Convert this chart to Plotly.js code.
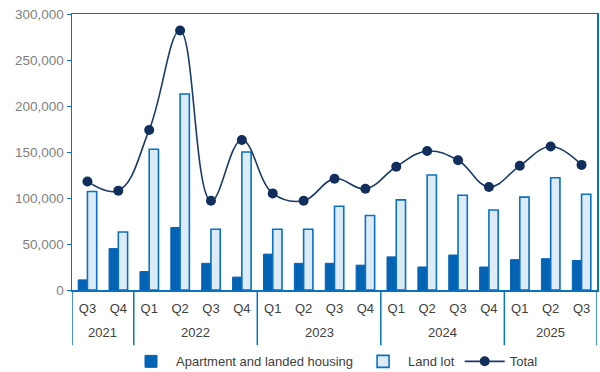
<!DOCTYPE html>
<html><head><meta charset="utf-8">
<script src="https://cdn.plot.ly/plotly-3.0.1.min.js"></script>
<style>html,body{margin:0;padding:0;background:#fff}#chart{width:600px;height:372px}</style>
</head><body><div id="chart"></div>
<script>
const years = ["2021","2021","2022","2022","2022","2022","2023","2023","2023","2023","2024","2024","2024","2024","2025","2025","2025"];
const quarters = ["Q3","Q4","Q1","Q2","Q3","Q4","Q1","Q2","Q3","Q4","Q1","Q2","Q3","Q4","Q1","Q2","Q3"];
const apartment = [11000,45000,20000,68000,29000,14000,39000,29000,29000,27000,36000,25000,38000,25000,33000,34000,32000];
const landLot = [107000,63000,153000,213000,66000,150000,66000,66000,91000,81000,98000,125000,103000,87000,101000,122000,104000];
const total = [118000,108000,174000,282000,97000,163000,105000,97000,121000,110000,134000,151000,141000,112000,135000,156000,136000];
const yTicks = [0,50000,100000,150000,200000,250000,300000];

const keys = years.map((y,i) => y + " " + quarters[i]);
const blue = '#0A70C0';

const traces = [
  {type:'bar', name:'Apartment and landed housing', x:keys, y:apartment,
   marker:{color:'#0563B4', line:{color:'#0563B4', width:1}}},
  {type:'bar', name:'Land lot', x:keys, y:landLot,
   marker:{color:'#DDEBF7', line:{color:blue, width:1.6}}},
  {type:'scatter', mode:'lines+markers', name:'Total', x:keys, y:total,
   line:{color:'#1B3A66', width:1.6, shape:'spline', smoothing:1.15},
   marker:{color:'#122E5C', size:10}}
];

// year group labels and dividers
const groups = [];
years.forEach((y,i) => {
  if (!groups.length || groups[groups.length-1].year !== y) groups.push({year:y, start:i, end:i});
  else groups[groups.length-1].end = i;
});
const annotations = groups.map(g => ({
  x:(g.start+g.end)/2, xref:'x', y:-0.155, yref:'paper', yanchor:'middle',
  text:g.year, showarrow:false, font:{size:13, color:'#404040'}
}));
const bounds = [-0.5].concat(groups.map(g => g.end + 0.5));
const shapes = bounds.map(b => ({
  type:'line', xref:'x', yref:'paper', x0:b, x1:b, y0:0, y1:-0.2,
  line:{color:blue, width:1.5}
}));

const layout = {
  width:600, height:372,
  margin:{l:72, r:3, t:14, b:82, autoexpand:false},
  paper_bgcolor:'#fff', plot_bgcolor:'#fff',
  font:{family:'"Liberation Sans", Arial, sans-serif', size:13, color:'#595959'},
  barmode:'group', bargap:0.4, bargroupgap:0,
  showlegend:true,
  legend:{orientation:'h', x:0.5, xanchor:'center', y:-0.313, yanchor:'bottom',
          font:{size:13, color:'#404040'}, traceorder:'normal', itemwidth:40},
  xaxis:{type:'category', tickvals:keys, ticktext:quarters, range:[-0.5, keys.length-0.5],
         showline:true, linecolor:blue, linewidth:1.5,
         mirror:true, showgrid:false, ticks:'', ticklabelstandoff:6,
         tickfont:{color:'#404040', size:13}},
  yaxis:{range:[0,300000], tickvals:yTicks,
         tickformat:',d', showline:true, linecolor:blue, linewidth:1.5, mirror:true,
         showgrid:false, zeroline:false, ticks:'outside', ticklen:4, tickcolor:blue,
         tickfont:{color:'#7F7F7F', size:13.5}},
  annotations:annotations,
  shapes:shapes,
  hovermode:false
};
Plotly.newPlot('chart', traces, layout, {staticPlot:true});
</script></body></html>
